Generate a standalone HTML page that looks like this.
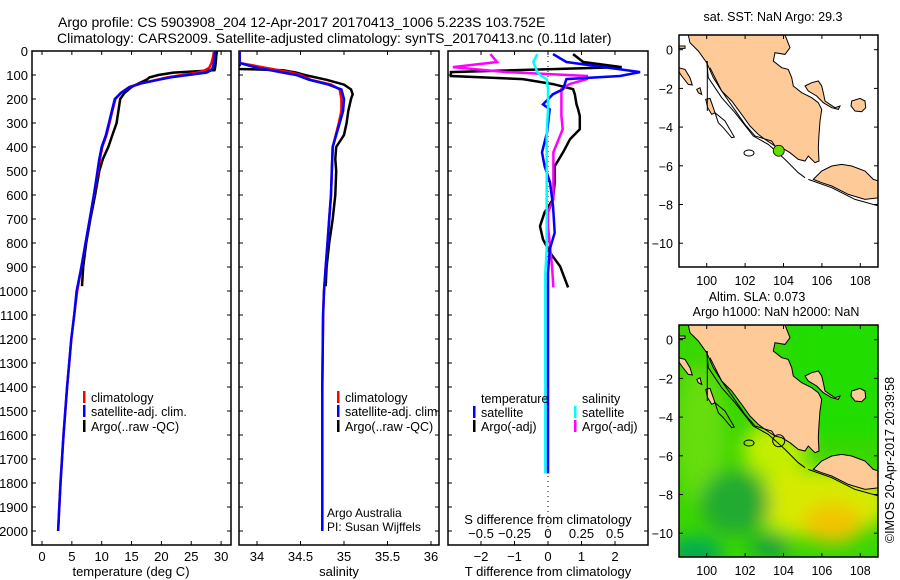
<!DOCTYPE html>
<html><head><meta charset="utf-8"><style>
html,body{margin:0;padding:0;background:#fff;}
svg{display:block;font-family:"Liberation Sans",sans-serif;}
</style></head><body>
<svg id="chart" width="900" height="580" viewBox="0 0 900 580" xmlns="http://www.w3.org/2000/svg">
<defs>
<filter id="blur" x="-50%" y="-50%" width="200%" height="200%"><feGaussianBlur stdDeviation="9"/></filter>
<clipPath id="clipTop"><rect x="679" y="35" width="199" height="232"/></clipPath>
<clipPath id="clipBot"><rect x="679" y="325" width="199" height="232"/></clipPath>
<clipPath id="c1"><rect x="32" y="51" width="199" height="494"/></clipPath>
<clipPath id="c2"><rect x="239" y="51" width="200" height="494"/></clipPath>
<clipPath id="c3"><rect x="448" y="51" width="200" height="494"/></clipPath>
</defs>
<text x="58" y="27" font-size="14">Argo profile: CS 5903908_204 12-Apr-2017 20170413_1006 5.223S 103.752E</text>
<text x="57" y="43" font-size="14">Climatology: CARS2009. Satellite-adjusted climatology: synTS_20170413.nc (0.11d later)</text>
<g id="g"></g>
</svg>
<script>
// ---- profile data (depth in m) ----
const depthT = [0,20,50,70,80,90,100,110,120,135,150,175,200,250,300,350,400,450,500,600,700,800,900,1000,1100,1200,1400,1600,1800,2000];
const tempClim = [28.8,28.7,28.4,28.0,27.3,26.0,23.5,21.0,19.2,16.5,14.6,13.2,12.3,11.8,11.3,10.8,10.1,9.7,9.4,8.7,8.0,7.3,6.6,5.9,5.4,4.9,4.2,3.6,3.1,2.7];
const tempSat = [29.0,28.9,28.8,28.6,28.3,27.6,24.5,21.5,19.5,16.6,14.7,13.2,12.2,11.7,11.2,10.7,10.0,9.6,9.3,8.7,8.0,7.3,6.6,5.8,5.4,4.9,4.2,3.6,3.1,2.7];
const depthArgo = [0,20,50,70,80,90,100,110,120,135,150,175,200,250,300,350,400,450,500,600,700,800,900,980];
const tempArgo = [29.3,29.2,29.1,29.0,28.9,22.0,19.5,18.0,17.5,16.2,15.0,13.8,13.1,12.8,12.5,11.8,11.1,10.2,9.6,8.9,8.1,7.4,6.9,6.7];
const depthS = [0,50,60,70,80,90,100,120,140,160,200,250,300,400,500,600,700,800,900,1000,1100,1400,1700,2000];
const salClim = [33.8,33.8,33.95,34.1,34.25,34.4,34.5,34.62,34.85,34.95,34.97,34.97,34.94,34.87,34.86,34.85,34.83,34.81,34.79,34.77,34.76,34.75,34.75,34.75];
const salSat = [33.8,33.8,33.9,34.0,34.15,34.3,34.45,34.6,34.82,34.97,35.0,34.99,34.95,34.87,34.86,34.85,34.83,34.81,34.79,34.77,34.76,34.75,34.75,34.75];
const depthSA = [0,50,60,70,75,80,90,100,120,140,160,180,200,250,300,350,400,450,500,600,700,800,900,980];
const salArgo = [33.8,33.8,33.8,33.75,33.8,34.3,34.45,34.55,34.8,35.0,35.08,35.1,35.08,35.05,35.03,35.0,34.91,34.9,34.91,34.9,34.87,34.83,34.8,34.79];
// ---- difference data ----
const depthD = [13,46,67,88,104,117,138,159,180,222,243,271,326,367,422,480,547,618,672,730,785,840,897,985];
const dTArgo = [0.75,1.05,2.2,-2.9,-2.9,-0.75,0.15,0.75,0.8,0.85,0.9,0.95,0.95,0.66,0.45,0.2,0.2,0.15,-0.1,-0.24,-0.15,0.06,0.36,0.6];
const dSArgo = [-0.43,-0.38,-0.71,-0.31,0.29,0.29,0.16,0.1,0.1,0.1,0.1,0.1,0.11,0.08,0.04,0.04,0.04,0.04,0.0,0.0,0.01,0.02,0.03,0.04];
const depthDS = [13,46,88,104,117,159,180,222,243,340,422,480,547,645,757,827,925,1100,1300,1500,1760];
const dTSat = [0.15,0.55,2.75,2.15,0.55,0.45,0.15,-0.15,0.05,-0.03,-0.18,-0.1,0.06,0.15,0.2,0.05,0.0,0.0,0.0,0.0,0.0];
const dSSat = [-0.08,-0.11,-0.08,-0.05,-0.01,0.0,0.0,0.0,0.0,-0.01,-0.01,-0.01,-0.01,-0.01,-0.01,-0.01,-0.02,-0.02,-0.02,-0.02,-0.02];
// ---- tick labels ----
const depthTicks = [0,100,200,300,400,500,600,700,800,900,1000,1100,1200,1300,1400,1500,1600,1700,1800,1900,2000];
const tempTicks = [0,5,10,15,20,25,30];
const salTicks = [34,34.5,35,35.5,36];
const dTTicks = [-2,-1,0,1,2];
const dSTicks = [-0.5,-0.25,0,0.25,0.5];
const latTicks = [0,-2,-4,-6,-8,-10];
const lonTicks = [100,102,104,106,108];
const argoLon = 103.752, argoLat = -5.223;

const NS='http://www.w3.org/2000/svg';
const G=document.getElementById('g');
function el(tag,attrs,parent){const e=document.createElementNS(NS,tag);for(const k in attrs)e.setAttribute(k,attrs[k]);(parent||G).appendChild(e);return e;}
function txt(x,y,s,size,anchor,parent){const t=el('text',{x:x,y:y,'font-size':size||13,'text-anchor':anchor||'start'},parent);t.textContent=s;return t;}

const yD = d => 51 + d*0.24;
const xT = v => 42 + v*5.97;
const xS = v => 257 + (v-34)*87;
const xDT = v => 548 + v*33.5;
const xDS = v => 548 + v*134;

function line(xs,ds,fx,color,name,clip){
  let pts=xs.map((v,i)=>fx(v).toFixed(1)+','+yD(ds[i]).toFixed(1)).join(' ');
  const p=el('polyline',{points:pts,fill:'none',stroke:color,'stroke-width':2.5,'stroke-linejoin':'miter','clip-path':'url(#'+clip+')'});
  
  
}
function box(x0,x1,name){
  const r=el('rect',{x:x0,y:51,width:x1-x0,height:494,fill:'none',stroke:'#000','stroke-width':1.5});
  
  
  depthTicks.forEach(d=>{el('line',{x1:x0,x2:x0+4,y1:yD(d),y2:yD(d),stroke:'#000'});el('line',{x1:x1,x2:x1-4,y1:yD(d),y2:yD(d),stroke:'#000'});});
}
box(32,231,'temperature-panel');box(239,439,'salinity-panel');box(448,648,'difference-panel');
depthTicks.forEach(d=>{const t=txt(28,yD(d)+5,String(d),13,'end');
  
  });
function xticks(ticks,fx,ylab){ticks.forEach(v=>{const x=fx(v);el('line',{x1:x,x2:x,y1:51,y2:55,stroke:'#000'});el('line',{x1:x,x2:x,y1:545,y2:541,stroke:'#000'});
  const t=txt(x,ylab,String(v).replace('-','\u2212'),13,'middle');
  
  });}
xticks(tempTicks,xT,561);xticks(salTicks,xS,561);xticks(dTTicks,xDT,561);
dSTicks.forEach(v=>{const t=txt(xDS(v),538,String(v).replace('-','\u2212'),13,'middle');
  
  });
let t;
t=txt(131,576,'temperature (deg C)',13,'middle');
t=txt(339,576,'salinity',13,'middle');
t=txt(548,576,'T difference from climatology',13,'middle');
t=txt(548,524,'S difference from climatology',13,'middle');
t=txt(327,517,'Argo Australia',12);
t=txt(327,531,'PI: Susan Wijffels',12);
el('line',{x1:548,x2:548,y1:51,y2:545,stroke:'#000','stroke-dasharray':'1,4'});
line(tempArgo,depthArgo,xT,'#000','temp-argo-line','c1');
line(tempClim,depthT,xT,'#ff0000','temp-clim-line','c1');
line(tempSat,depthT,xT,'#0000ff','temp-sat-line','c1');
line(salArgo,depthSA,xS,'#000','sal-argo-line','c2');
line(salClim,depthS,xS,'#ff0000','sal-clim-line','c2');
line(salSat,depthS,xS,'#0000ff','sal-sat-line','c2');
line(dTArgo,depthD,xDT,'#000','tdiff-argo-line','c3');
line(dSArgo,depthD,xDS,'#ff00ff','sdiff-argo-line','c3');
line(dTSat,depthDS,xDT,'#0000ff','tdiff-sat-line','c3');
line(dSSat,depthDS,xDS,'#00ffff','sdiff-sat-line','c3');
function leg(x,y,color,label,name){el('rect',{x:x,y:y-6,width:2.5,height:12,fill:color});const t=txt(x+8,y+5,label,12.5);
  
  }
leg(83,397,'#ff0000','climatology','legend-climatology');leg(83,411,'#0000ff','satellite-adj. clim.','legend-satellite-adj');leg(83,426,'#000','Argo(..raw -QC)','legend-argo');
leg(337,397,'#ff0000','climatology','legend2-climatology');leg(337,411,'#0000ff','satellite-adj. clim.','legend2-satellite-adj');leg(337,426,'#000','Argo(..raw -QC)','legend2-argo');
t=txt(481,403,'temperature',12.5);
t=txt(582,403,'salinity',12.5);
leg(473,412,'#0000ff','satellite','legend-t-satellite');leg(473,426,'#000','Argo(-adj)','legend-t-argo');
leg(574,412,'#00ffff','satellite','legend-s-satellite');leg(574,426,'#ff00ff','Argo(-adj)','legend-s-argo');

// ---- maps ----  (outline coordinates traced on a 3x zoom; converted to map-box offsets)
const sumatra=[[40,22],[330,22],[345,60],[330,80],[300,75],[295,100],[320,120],[340,125],[350,150],[355,175],[380,195],[410,210],[430,225],[440,245],[435,280],[432,320],[430,360],[432,400],[420,405],[400,385],[390,400],[370,395],[345,375],[320,360],[300,355],[270,335],[250,320],[225,295],[200,260],[170,220],[140,190],[115,150],[95,105],[70,70],[45,45]];
const bangka=[[390,175],[410,165],[430,160],[440,175],[445,195],[450,220],[465,230],[480,240],[495,235],[490,245],[470,240],[445,225],[425,205],[400,190]];
const belitung=[[530,220],[555,212],[570,220],[572,240],[560,252],[540,250],[528,235]];
const java=[[415,455],[440,430],[470,415],[500,410],[530,415],[570,430],[595,455],[612,460],[612,510],[570,515],[520,500],[470,475],[440,465]];
const nias=[[10,120],[30,125],[45,150],[52,172],[40,170],[20,145],[10,130]];
const islet=[[65,185],[75,180],[80,200],[70,195]];
const siberut=[[92,215],[105,212],[115,240],[120,255],[110,260],[98,240]];
const topleft=[[10,55],[30,55],[30,62],[10,62]];
const mentawai=[[120,255],[150,280],[178,328],[170,330],[145,300],[130,285]];
const contour=[[95,100],[100,150],[140,210],[180,255],[235,325],[280,350],[330,395],[370,435],[390,450]];
const contour2=[[105,120],[140,190],[175,240],[210,290],[240,325],[290,340],[300,355]];
const contour3=[[97,100],[97,250]];
const javaS=[[400,455],[470,480],[540,515],[612,535]];
function poly(arr,top){return arr.map(p=>(679+p[0]/3-4).toFixed(1)+','+(top+p[1]/3-7.3).toFixed(1)).join(' ');}
const lonX = v => 706.7 + (v-100)*19.2;
const latY = (v,top) => top + 14.7 + (-v)*19.35;
function drawMap(top,clip,name,heat){
  const g=el('g',{'clip-path':'url(#'+clip+')'});
  
  
  if(heat){
    el('rect',{x:679,y:top,width:199,height:232,fill:'#3ad600'},g);
    const hg=el('g',{filter:'url(#blur)'},g);
    el('ellipse',{cx:700,cy:top+110,rx:25,ry:70,fill:'#66dd11'},hg);
    el('ellipse',{cx:775,cy:top+125,rx:32,ry:28,fill:'#c4ee00'},hg);
    el('ellipse',{cx:820,cy:top+178,rx:70,ry:35,fill:'#d6ea00'},hg);
    el('ellipse',{cx:833,cy:top+198,rx:30,ry:20,fill:'#f2c400'},hg);
    el('ellipse',{cx:735,cy:top+178,rx:35,ry:32,fill:'#22aa33'},hg);
    el('ellipse',{cx:695,cy:top+228,rx:28,ry:16,fill:'#00aa55'},hg);
    el('ellipse',{cx:770,cy:top+222,rx:20,ry:12,fill:'#11a040'},hg);
    el('rect',{x:785,y:top-20,width:110,height:135,fill:'#22dd00'},hg);
  }
  [sumatra,bangka,belitung,java,nias,islet,siberut,topleft].forEach(a=>el('polygon',{points:poly(a,top),fill:'#fdca98',stroke:'#000','stroke-width':1},g));
  [mentawai].forEach(a=>el('polygon',{points:poly(a,top),fill:'none',stroke:'#000','stroke-width':1},g));
  [contour,contour2,contour3,javaS].forEach(a=>el('polyline',{points:poly(a,top),fill:'none',stroke:'#000','stroke-width':1},g));
  el('ellipse',{cx:749,cy:top+118,rx:5,ry:3,fill:'none',stroke:'#000'},g);
  el('rect',{x:679,y:top,width:199,height:232,fill:'none',stroke:'#000','stroke-width':1.5});
  latTicks.forEach(v=>{const y=latY(v,top);el('line',{x1:679,x2:683,y1:y,y2:y,stroke:'#000'});el('line',{x1:878,x2:874,y1:y,y2:y,stroke:'#000'});
    const tt=txt(673,y+5,String(v).replace('-','\u2212'),12.5,'end');
    
    });
  lonTicks.forEach(v=>{const x=lonX(v);el('line',{x1:x,x2:x,y1:top,y2:top+4,stroke:'#000'});el('line',{x1:x,x2:x,y1:top+232,y2:top+228,stroke:'#000'});
    const tt=txt(x,top+250,String(v),12.5,'middle');
    
    });
}
drawMap(35,'clipTop','sst-map',false);
drawMap(325,'clipBot','sla-map',true);
const argoPt=el('circle',{cx:lonX(argoLon),cy:latY(argoLat,35),r:5.5,fill:'#66dd00',stroke:'#000','stroke-width':0.8});


el('circle',{cx:lonX(argoLon),cy:latY(argoLat,325),r:6,fill:'none',stroke:'#000','stroke-width':1});
t=txt(773,21,'sat. SST: NaN Argo: 29.3',12.5,'middle');
t=txt(757,301,'Altim. SLA: 0.073',12.5,'middle');
t=txt(776,316,'Argo h1000: NaN h2000: NaN',12.5,'middle');
t=txt(0,0,'\u00a9IMOS 20-Apr-2017 20:39:58',12.5,'middle');t.setAttribute('transform','translate(894,460) rotate(-90)');

</script>
</body></html>
